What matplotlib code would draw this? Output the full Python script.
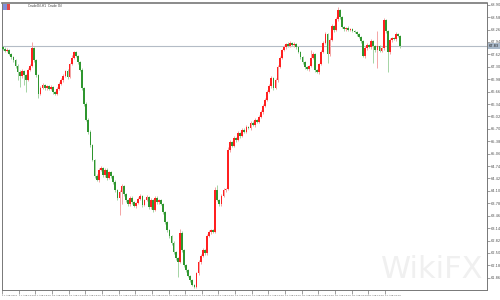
import matplotlib.pyplot as plt
from matplotlib.patches import Rectangle

# hourly candles, open of each bar = close of the previous one
first_open = 67.81
closes = [
    67.76, 67.71, 67.73, 67.63, 67.55, 67.47, 67.32, 67.16, 67.06, 67.19, 67.09, 66.96,
    67.22, 67.32, 67.78, 67.47, 67.09, 66.60, 66.75, 66.83, 66.75, 66.80, 66.73, 66.78,
    66.65, 66.60, 66.73, 66.85, 66.96, 67.06, 67.19, 67.04, 67.37, 67.53, 67.68, 67.58,
    67.42, 67.22, 66.75, 66.34, 65.93, 65.62, 65.28, 64.90, 64.48, 64.38, 64.64, 64.69,
    64.51, 64.64, 64.43, 64.59, 64.48, 64.33, 64.12, 63.92, 64.07, 64.23, 64.02, 63.86,
    63.76, 63.92, 63.81, 63.71, 63.79, 63.89, 63.97, 63.74, 63.86, 63.94, 63.68, 63.86,
    63.61, 63.92, 63.81, 63.86, 63.76, 63.55, 63.30, 63.09, 62.94, 62.76, 62.52, 62.37,
    62.27, 63.01, 62.58, 62.19, 62.06, 61.90, 61.80, 61.67, 61.62, 61.98, 62.27, 62.42,
    62.58, 62.50, 62.94, 63.04, 63.09, 63.04, 64.12, 63.86, 63.76, 63.97, 64.12, 64.15,
    65.15, 65.36, 65.26, 65.46, 65.41, 65.59, 65.51, 65.67, 65.62, 65.75, 65.72, 65.85,
    65.80, 65.93, 65.88, 66.00, 66.13, 66.29, 66.44, 66.65, 66.80, 67.01, 66.75, 66.96,
    67.29, 67.53, 67.73, 67.81, 67.89, 67.83, 67.91, 67.86, 67.89, 67.81, 67.68, 67.55,
    67.42, 67.29, 67.24, 67.32, 67.53, 67.63, 67.22, 67.16, 67.37, 67.68, 67.91, 68.14,
    67.63, 67.99, 68.35, 68.25, 68.53, 68.76, 68.58, 68.32, 68.27, 68.30, 68.25, 68.27,
    68.22, 68.20, 68.14, 68.07, 67.96, 67.58, 67.78, 67.86, 67.81, 67.96, 67.83, 67.73,
    67.83, 67.71, 67.78, 68.50, 68.22, 67.68, 67.99, 68.04, 68.01, 68.14, 68.09, 67.83,
]
# wick lengths beyond the body, in cents
hi_wick = [
    3, 4, 5, 3, 2, 4, 3, 5, 6, 4, 3, 2,
    4, 6, 15, 4, 3, 2, 5, 4, 3, 4, 3, 5,
    2, 3, 4, 5, 4, 6, 3, 5, 4, 8, 3, 2,
    3, 2, 4, 3, 5, 4, 6, 3, 2, 5, 6, 4,
    3, 5, 4, 3, 2, 3, 4, 3, 5, 6, 3, 2,
    3, 5, 4, 2, 3, 4, 6, 3, 4, 5, 3, 6,
    3, 5, 4, 3, 2, 3, 4, 3, 2, 3, 4, 2,
    3, 10, 5, 3, 2, 3, 2, 3, 2, 4, 6, 5,
    5, 3, 6, 4, 3, 2, 8, 13, 4, 5, 6, 3,
    8, 6, 3, 5, 4, 6, 3, 5, 4, 6, 3, 5,
    4, 6, 3, 5, 6, 4, 5, 6, 5, 4, 3, 6,
    5, 6, 4, 5, 3, 4, 5, 3, 4, 3, 2, 3,
    2, 3, 4, 3, 20, 5, 3, 2, 4, 6, 5, 6,
    4, 6, 5, 3, 5, 8, 3, 2, 4, 3, 4, 3,
    3, 4, 2, 3, 2, 3, 5, 4, 3, 5, 3, 2,
    39, 3, 4, 5, 3, 4, 6, 4, 3, 5, 4, 3,
]
lo_wick = [
    3, 2, 4, 3, 5, 4, 6, 20, 28, 5, 25, 30,
    3, 4, 2, 5, 6, 10, 4, 3, 5, 4, 3, 4,
    5, 4, 3, 2, 3, 4, 3, 5, 3, 2, 4, 3,
    4, 3, 5, 4, 3, 6, 5, 4, 5, 3, 4, 3,
    5, 4, 6, 3, 4, 5, 4, 6, 44, 30, 5, 4,
    6, 5, 4, 3, 5, 4, 3, 6, 4, 3, 5, 4,
    5, 3, 4, 5, 3, 4, 5, 4, 6, 5, 4, 5,
    39, 4, 5, 4, 5, 3, 4, 3, 2, 3, 4, 5,
    3, 4, 5, 3, 4, 3, 2, 3, 5, 4, 3, 4,
    3, 4, 3, 2, 4, 3, 5, 3, 4, 3, 2, 4,
    3, 4, 3, 2, 3, 4, 3, 2, 3, 4, 5, 3,
    4, 3, 2, 3, 4, 3, 2, 3, 4, 5, 3, 4,
    4, 5, 3, 4, 3, 4, 5, 3, 4, 3, 2, 3,
    23, 4, 3, 5, 3, 4, 5, 3, 4, 5, 3, 4,
    3, 4, 5, 3, 6, 4, 5, 4, 3, 5, 44, 4,
    46, 4, 3, 5, 4, 52, 5, 4, 3, 4, 3, 5,
]
time_labels = [
    '17 Aug 2021', '17 Aug 10:00', '17 Aug 18:00', '18 Aug 02:00', '18 Aug 10:00',
    '18 Aug 18:00', '19 Aug 02:00', '19 Aug 10:00', '19 Aug 18:00', '20 Aug 02:00',
    '20 Aug 10:00', '20 Aug 18:00', '23 Aug 02:00', '23 Aug 10:00', '23 Aug 18:00',
    '24 Aug 02:00', '24 Aug 10:00', '24 Aug 18:00', '25 Aug 02:00', '25 Aug 10:00',
    '25 Aug 18:00', '26 Aug 02:00', '26 Aug 10:00', '27 Aug 02:00',
]
price_ticks = [68.90, 68.58, 68.26, 67.94, 67.62, 67.30, 66.98, 66.66, 66.34, 66.02,
               65.70, 65.38, 65.06, 64.74, 64.42, 64.10, 63.78, 63.46, 63.14, 62.82,
               62.50, 62.18, 61.86]
title = 'CrudeOil,H1  Crude Oil'

narrow = ['Liberation Sans Narrow', 'DejaVu Sans']

fig = plt.figure(figsize=(5, 3), dpi=100)
ax = fig.add_axes([2 / 500, 10 / 300, 485 / 500, 287 / 300])

opens = [first_open] + closes[:-1]
for i, (o, c) in enumerate(zip(opens, closes)):
    up = c >= o
    hi = max(o, c) + hi_wick[i] / 100
    lo = min(o, c) - lo_wick[i] / 100
    ax.vlines(i, lo, hi, colors='#f4a4a4' if up else '#a4d4a4', lw=0.7, zorder=2)
    h = max(abs(c - o), 0.025)
    ax.bar(i, h, bottom=min(o, c), width=0.85,
           color='#ff2020' if up else '#2f962f', lw=0, zorder=3)

last = closes[-1]
ax.axhline(last, color='#b4bcc6', lw=0.8, zorder=1)

ax.set_xlim(-0.5, -0.5 + 485 / 2.08)
ax.set_ylim(61.545, 68.944)

# price scale on the right
ax.yaxis.tick_right()
ax.set_yticks(price_ticks)
ax.set_yticklabels(['%.2f' % p for p in price_ticks], family=narrow,
                   fontsize=2.6, color='#333333')
ax.tick_params(axis='y', length=2, width=0.4, pad=1, colors='#555555')
ax.text(1.004, last, '%.2f' % last, transform=ax.get_yaxis_transform(),
        fontsize=2.6, family=narrow, color='#222222', va='center', ha='left',
        bbox=dict(boxstyle='square,pad=0.25', fc='#a9b9ca', ec='none'))

# time scale
ax.set_xticks([8 * k - 0.45 for k in range(len(time_labels))])
ax.set_xticklabels(time_labels, ha='left', family=narrow, fontsize=1.75,
                   color='#333333')
ax.tick_params(axis='x', length=3, width=0.4, pad=0.6, colors='#555555')

for s in ax.spines.values():
    s.set_color('#777777')
    s.set_linewidth(0.7)
ax.spines['top'].set_linewidth(1.2)

ax.text(0.992, 0.02, 'WikiFX', transform=ax.transAxes, fontsize=22,
        color='#f0f0f0', ha='right', va='bottom', zorder=0)
ax.text(12, 68.86, title, fontsize=2.2, family=narrow, color='#333333',
        va='center', ha='left')

fig.patches.append(Rectangle((3 / 500, 1 - 10 / 300), 3.5 / 500, 6 / 300,
                             transform=fig.transFigure, fc='#7f8fd8', ec='none'))
fig.patches.append(Rectangle((6.5 / 500, 1 - 10 / 300), 3.5 / 500, 6 / 300,
                             transform=fig.transFigure, fc='#e04848', ec='none'))

fig.savefig('out.png', dpi=100)
